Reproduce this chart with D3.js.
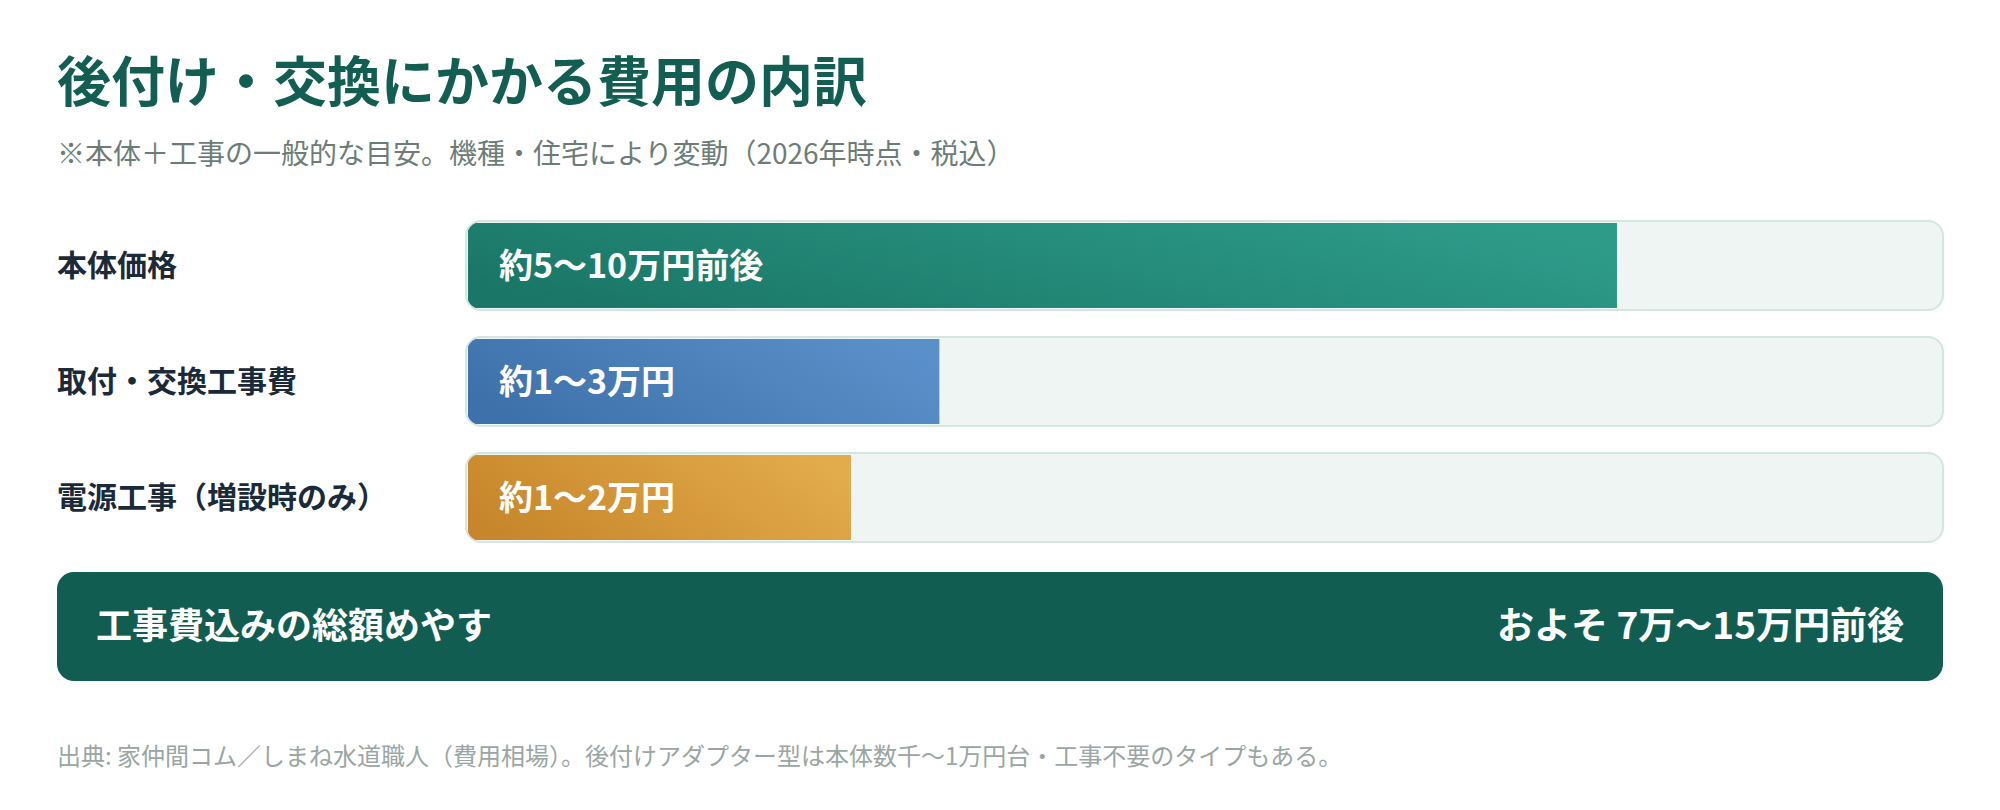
<!DOCTYPE html>
<html lang="ja">
<head>
<meta charset="utf-8">
<script src="https://cdn.jsdelivr.net/npm/d3@7"></script>
<style>
  html, body { margin: 0; padding: 0; background: #ffffff; }
  svg text { font-family: "Noto Sans CJK JP", "Noto Sans", sans-serif; }
</style>
</head>
<body>
<div id="chart"></div>
<script>
// 費用の内訳 (bar fill = share of track, %)
const categories = ["本体価格", "取付・交換工事費", "電源工事（増設時のみ）"];
const fillPct = [78, 32, 26];
const barLabels = ["約5〜10万円前後", "約1〜3万円", "約1〜2万円"];
const gradStops = [
  ["#1a7767", "#2e9b89"],
  ["#3e71a9", "#5a90c9"],
  ["#c7862b", "#e2ab4b"]
];

const titleText = "後付け・交換にかかる費用の内訳";
const subtitleText = "※本体＋工事の一般的な目安。機種・住宅により変動（2026年時点・税込）";
const totalLabel = "工事費込みの総額めやす";
const totalValue = "およそ 7万〜15万円前後";
const sourceText = "出典: 家仲間コム／しまね水道職人（費用相場）。後付けアダプター型は本体数千〜1万円台・工事不要のタイプもある。";

const W = 2000, H = 810;
const left = 57, right = 1943;
const trackX0 = 466;

const svg = d3.select("#chart")
  .append("svg")
  .attr("width", W)
  .attr("height", H)
  .attr("viewBox", "0 0 " + W + " " + H);

const defs = svg.append("defs");

// title + subtitle
svg.append("text")
  .attr("x", left)
  .attr("y", 102)
  .attr("fill", "#135e52")
  .attr("font-size", 54)
  .attr("font-weight", 700)
  .text(titleText);

svg.append("text")
  .attr("x", left)
  .attr("y", 164)
  .attr("fill", "#6c7d78")
  .attr("font-size", 28)
  .text(subtitleText);

// scales
const y = d3.scaleBand()
  .domain(categories)
  .range([221, 542])
  .paddingInner(0.233)
  .paddingOuter(0);

const x = d3.scaleLinear()
  .domain([0, 100])
  .range([trackX0 + 2, right - 2]);

const rows = svg.append("g").attr("id", "rows")
  .selectAll("g")
  .data(categories)
  .enter()
  .append("g")
  .attr("transform", (d) => "translate(0," + y(d) + ")");

gradStops.forEach(function (s, i) {
  const g = defs.append("linearGradient")
    .attr("id", "grad" + i)
    .attr("x1", "0%").attr("y1", "65%")
    .attr("x2", "100%").attr("y2", "35%");
  g.append("stop").attr("offset", "0%").attr("stop-color", s[0]);
  g.append("stop").attr("offset", "100%").attr("stop-color", s[1]);

  defs.append("clipPath")
    .attr("id", "clip" + i)
    .append("rect")
    .attr("x", trackX0 + 1)
    .attr("y", 1)
    .attr("width", right - trackX0 - 2)
    .attr("height", y.bandwidth() - 2)
    .attr("rx", 14);
});

// row labels
rows.append("text")
  .attr("x", left)
  .attr("y", y.bandwidth() / 2)
  .attr("dy", "0.36em")
  .attr("fill", "#1b2a38")
  .attr("font-size", 30)
  .attr("font-weight", 700)
  .text((d) => d);

// track
rows.append("rect")
  .attr("x", trackX0)
  .attr("y", 0)
  .attr("width", right - trackX0)
  .attr("height", y.bandwidth())
  .attr("rx", 15)
  .attr("fill", "#eef5f2")
  .attr("stroke", "#d4e6e0")
  .attr("stroke-width", 2);

// fill
rows.append("rect")
  .attr("clip-path", (d, i) => "url(#clip" + i + ")")
  .attr("x", x(0))
  .attr("y", 2)
  .attr("width", (d, i) => x(fillPct[i]) - x(0))
  .attr("height", y.bandwidth() - 4)
  .attr("fill", (d, i) => "url(#grad" + i + ")");

rows.append("text")
  .attr("x", trackX0 + 33)
  .attr("y", y.bandwidth() / 2)
  .attr("dy", "0.36em")
  .attr("fill", "#ffffff")
  .attr("font-size", 34)
  .attr("font-weight", 700)
  .text((d, i) => barLabels[i]);

// total box
const tot = svg.append("g").attr("transform", "translate(0,572)");
tot.append("rect")
  .attr("x", left)
  .attr("y", 0)
  .attr("width", right - left)
  .attr("height", 109)
  .attr("rx", 17)
  .attr("fill", "#115d52");

tot.append("text")
  .attr("x", left + 39)
  .attr("y", 54)
  .attr("dy", "0.36em")
  .attr("fill", "#ffffff")
  .attr("font-size", 36)
  .attr("font-weight", 700)
  .text(totalLabel);

tot.append("text")
  .attr("x", right - 39)
  .attr("y", 54)
  .attr("dy", "0.36em")
  .attr("text-anchor", "end")
  .attr("fill", "#ffffff")
  .attr("font-size", 37)
  .attr("font-weight", 700)
  .text(totalValue);

// source
svg.append("text")
  .attr("x", left)
  .attr("y", 765)
  .attr("fill", "#9aa6a3")
  .attr("font-size", 24)
  .text(sourceText);
</script>
</body>
</html>
